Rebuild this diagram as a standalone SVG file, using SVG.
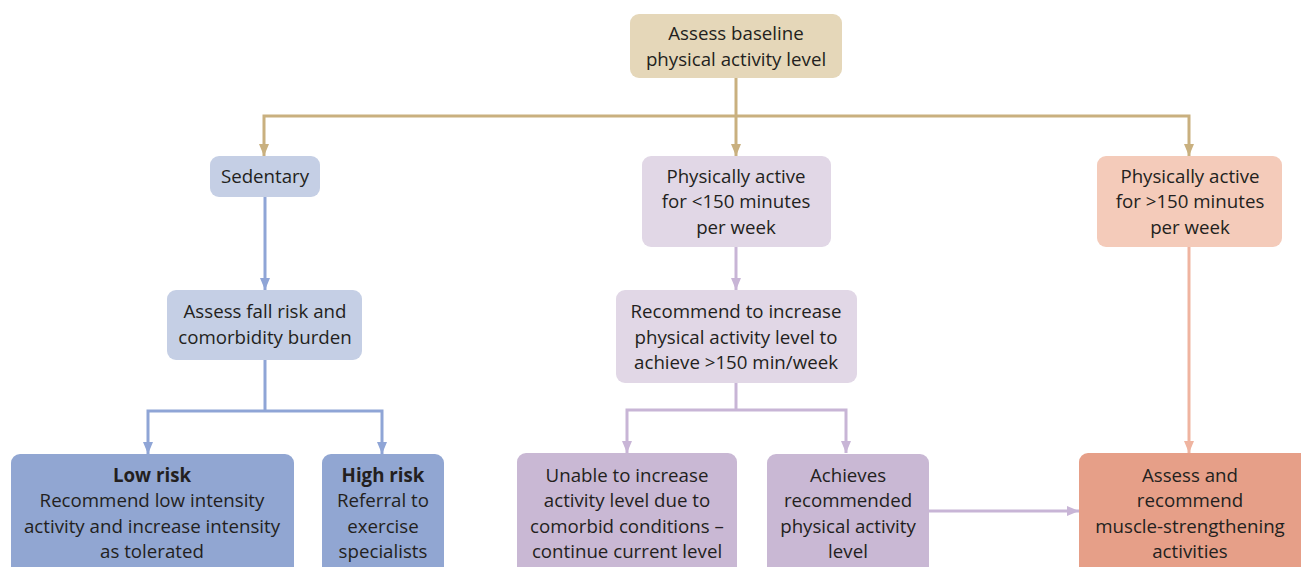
<svg xmlns="http://www.w3.org/2000/svg" width="1301" height="567" viewBox="0 0 1301 567">
<defs>
<style>
text{font-family:"Open Sans","Liberation Sans",sans-serif;font-size:18.7px;fill:#231f20;text-anchor:middle}
.b{font-weight:bold}
.tan{stroke:#c9b07f;stroke-width:3;fill:none}
.blue{stroke:#8fa5d6;stroke-width:3;fill:none}
.pur{stroke:#c8b5d6;stroke-width:3;fill:none}
.sal{stroke:#efb4a0;stroke-width:3;fill:none}
</style>
<marker id="aTan" viewBox="0 0 12 10" refX="12" refY="5" markerWidth="12" markerHeight="10" markerUnits="userSpaceOnUse" orient="auto-start-reverse"><path d="M0,0L12,5L0,10Z" fill="#c9b07f"/></marker>
<marker id="aBlue" viewBox="0 0 12 10" refX="12" refY="5" markerWidth="12" markerHeight="10" markerUnits="userSpaceOnUse" orient="auto-start-reverse"><path d="M0,0L12,5L0,10Z" fill="#8fa5d6"/></marker>
<marker id="aPur" viewBox="0 0 12 10" refX="12" refY="5" markerWidth="12" markerHeight="10" markerUnits="userSpaceOnUse" orient="auto-start-reverse"><path d="M0,0L12,5L0,10Z" fill="#c8b5d6"/></marker>
<marker id="aSal" viewBox="0 0 12 10" refX="12" refY="5" markerWidth="12" markerHeight="10" markerUnits="userSpaceOnUse" orient="auto-start-reverse"><path d="M0,0L12,5L0,10Z" fill="#efb4a0"/></marker>
</defs>
<rect width="1301" height="567" fill="#fff"/>
<g id="connectors">
<path class="tan" d="M736,78V116"/>
<path class="tan" d="M264,156V116H1189V156" marker-start="url(#aTan)" marker-end="url(#aTan)"/>
<path class="tan" d="M736,116V156" marker-end="url(#aTan)"/>
<path class="blue" d="M265,197V290" marker-end="url(#aBlue)"/>
<path class="blue" d="M265,360V411"/>
<path class="blue" d="M148,454V411H382V454" marker-start="url(#aBlue)" marker-end="url(#aBlue)"/>
<path class="pur" d="M736,247V290" marker-end="url(#aPur)"/>
<path class="pur" d="M736,383V410"/>
<path class="pur" d="M627,453V410H846V453" marker-start="url(#aPur)" marker-end="url(#aPur)"/>
<path class="pur" d="M929,511H1079" marker-end="url(#aPur)"/>
<path class="sal" d="M1189,247V453" marker-end="url(#aSal)"/>
</g>
<g id="n-baseline"><rect x="630" y="14" width="212" height="64" rx="9" fill="#e5d7b9"/><text x="736" y="40">Assess baseline</text><text x="736" y="66">physical activity level</text></g>
<g id="n-sedentary"><rect x="210" y="156" width="110" height="41" rx="9" fill="#c5cfe5"/><text x="265" y="183">Sedentary</text></g>
<g id="n-fallrisk"><rect x="167" y="290" width="195" height="70" rx="9" fill="#c5cfe5"/><text x="265" y="318">Assess fall risk and</text><text x="265" y="344">comorbidity burden</text></g>
<g id="n-lowrisk"><rect x="11" y="454" width="283" height="125" rx="9" fill="#91a6d2"/><text class="b" x="152" y="482">Low risk</text><text x="152" y="507">Recommend low intensity</text><text x="152" y="533">activity and increase intensity</text><text x="152" y="558">as tolerated</text></g>
<g id="n-highrisk"><rect x="322" y="454" width="122" height="125" rx="9" fill="#91a6d2"/><text class="b" x="383" y="482">High risk</text><text x="383" y="507">Referral to</text><text x="383" y="533">exercise</text><text x="383" y="558">specialists</text></g>
<g id="n-lt150"><rect x="642" y="156" width="189" height="91" rx="9" fill="#e1d7e6"/><text x="736" y="183">Physically active</text><text x="736" y="208">for &lt;150 minutes</text><text x="736" y="234">per week</text></g>
<g id="n-recommend"><rect x="616" y="290" width="241" height="93" rx="9" fill="#e1d7e6"/><text x="736" y="318">Recommend to increase</text><text x="736" y="344">physical activity level to</text><text x="736" y="369">achieve &gt;150 min/week</text></g>
<g id="n-unable"><rect x="517" y="453" width="220" height="126" rx="9" fill="#c9b8d4"/><text x="627" y="482">Unable to increase</text><text x="627" y="507">activity level due to</text><text x="627" y="533">comorbid conditions –</text><text x="627" y="558">continue current level</text></g>
<g id="n-achieves"><rect x="767" y="454" width="162" height="125" rx="9" fill="#c9b8d4"/><text x="848" y="482">Achieves</text><text x="848" y="507">recommended</text><text x="848" y="533">physical activity</text><text x="848" y="558">level</text></g>
<g id="n-gt150"><rect x="1097" y="156" width="185" height="91" rx="9" fill="#f4cbba"/><text x="1190" y="183">Physically active</text><text x="1190" y="208">for &gt;150 minutes</text><text x="1190" y="234">per week</text></g>
<g id="n-muscle"><rect x="1079" y="453" width="230" height="126" rx="9" fill="#e69f88"/><text x="1190" y="482">Assess and</text><text x="1190" y="507">recommend</text><text x="1190" y="533">muscle-strengthening</text><text x="1190" y="558">activities</text></g>
</svg>
